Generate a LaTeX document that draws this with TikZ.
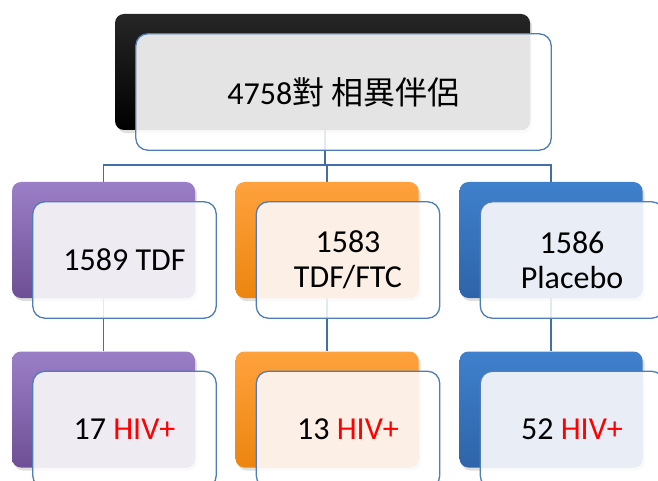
\documentclass[tikz,border=0pt]{standalone}
\usepackage{fontspec}
\setmainfont{Carlito}
\newfontfamily\cjk{Noto Sans CJK TC}
\usetikzlibrary{shadows}

\definecolor{rimblue}{HTML}{4F7DB8}
\definecolor{linkblue}{HTML}{446EA6}
\definecolor{hivred}{HTML}{FF0000}
\definecolor{purpletop}{HTML}{9B7FC6}
\definecolor{purplebot}{HTML}{6E4F96}
\definecolor{purpletint}{HTML}{EEEBF3}
\definecolor{orangetop}{HTML}{FFA23D}
\definecolor{orangebot}{HTML}{EC850F}
\definecolor{orangetint}{HTML}{FCEFE5}
\definecolor{bluetop}{HTML}{3F80CC}
\definecolor{bluebot}{HTML}{2E64A9}
\definecolor{bluetint}{HTML}{E9EEF6}
\definecolor{greytint}{HTML}{E4E4E4}

\pgfdeclarelayer{bg}
\pgfsetlayers{bg,main}

\tikzset{
  backbox/.style={rectangle, rounded corners=9pt, inner sep=0pt,
    drop shadow={opacity=0.25, shadow xshift=2pt, shadow yshift=-3pt}},
  frontbox/.style={rectangle, rounded corners=12pt, inner sep=0pt},
  boxtext/.style={font=\fontsize{32}{35}\selectfont, align=center},
  conn/.style={draw=linkblue, line width=1.8pt},
}

% #1 name, #2 back centre, #3 top colour, #4 bottom colour, #5 tint, #6 text, #7 width, #8 height
\newcommand{\twinbox}[8]{%
  \node[backbox, minimum width=#7, minimum height=#8, top color=#3, bottom color=#4] (#1b) at (#2) {};
  \node[frontbox, minimum width=#7, minimum height=#8, fill=white, fill opacity=0.85]
    (#1f) at ([shift={(21,20)}]#1b.center) {};
  \begin{scope}
    \clip[rounded corners=9pt] (#1b.north west) rectangle (#1b.south east);
    \fill[#5, rounded corners=12pt] (#1f.north west) rectangle (#1f.south east);
  \end{scope}
  \draw[rimblue, line width=1.3pt, rounded corners=12pt] (#1f.north west) rectangle (#1f.south east);
  \node[boxtext] (#1t) at (#1f.center) {#6};
}

\begin{document}
\begin{tikzpicture}[x=1pt, y=-1pt]
  \useasboundingbox (0,0) rectangle (658,481);

  \twinbox{top}{322.5,72}{black!85}{black}{greytint}{4758{\cjk 對 相異伴侶}}{415pt}{116pt}

  \twinbox{tdf}{103.5,240}{purpletop}{purplebot}{purpletint}{1589 TDF}{183pt}{116pt}
  \twinbox{ftc}{327,240}{orangetop}{orangebot}{orangetint}{1583\\TDF/FTC}{183pt}{116pt}
  \twinbox{pbo}{551,240}{bluetop}{bluebot}{bluetint}{1586\\Placebo}{183pt}{116pt}

  \twinbox{tdfh}{103.5,409.5}{purpletop}{purplebot}{purpletint}{17 \textcolor{hivred}{HIV+}}{183pt}{116pt}
  \twinbox{ftch}{327,409.5}{orangetop}{orangebot}{orangetint}{13 \textcolor{hivred}{HIV+}}{183pt}{116pt}
  \twinbox{pboh}{551,409.5}{bluetop}{bluebot}{bluetint}{52 \textcolor{hivred}{HIV+}}{183pt}{116pt}

  \begin{pgfonlayer}{bg}
    \draw[conn] ([xshift=2.5pt]topb.south) -- ++(0,35) coordinate (hub);
    \draw[conn] (hub) -| (tdfb.north);
    \draw[conn] (hub) -| (ftcb.north);
    \draw[conn] (hub) -| (pbob.north);
    \draw[conn] (tdfb.south) -- (tdfhb.north);
    \draw[conn] (ftcb.south) -- (ftchb.north);
    \draw[conn] (pbob.south) -- (pbohb.north);
  \end{pgfonlayer}
\end{tikzpicture}
\end{document}
